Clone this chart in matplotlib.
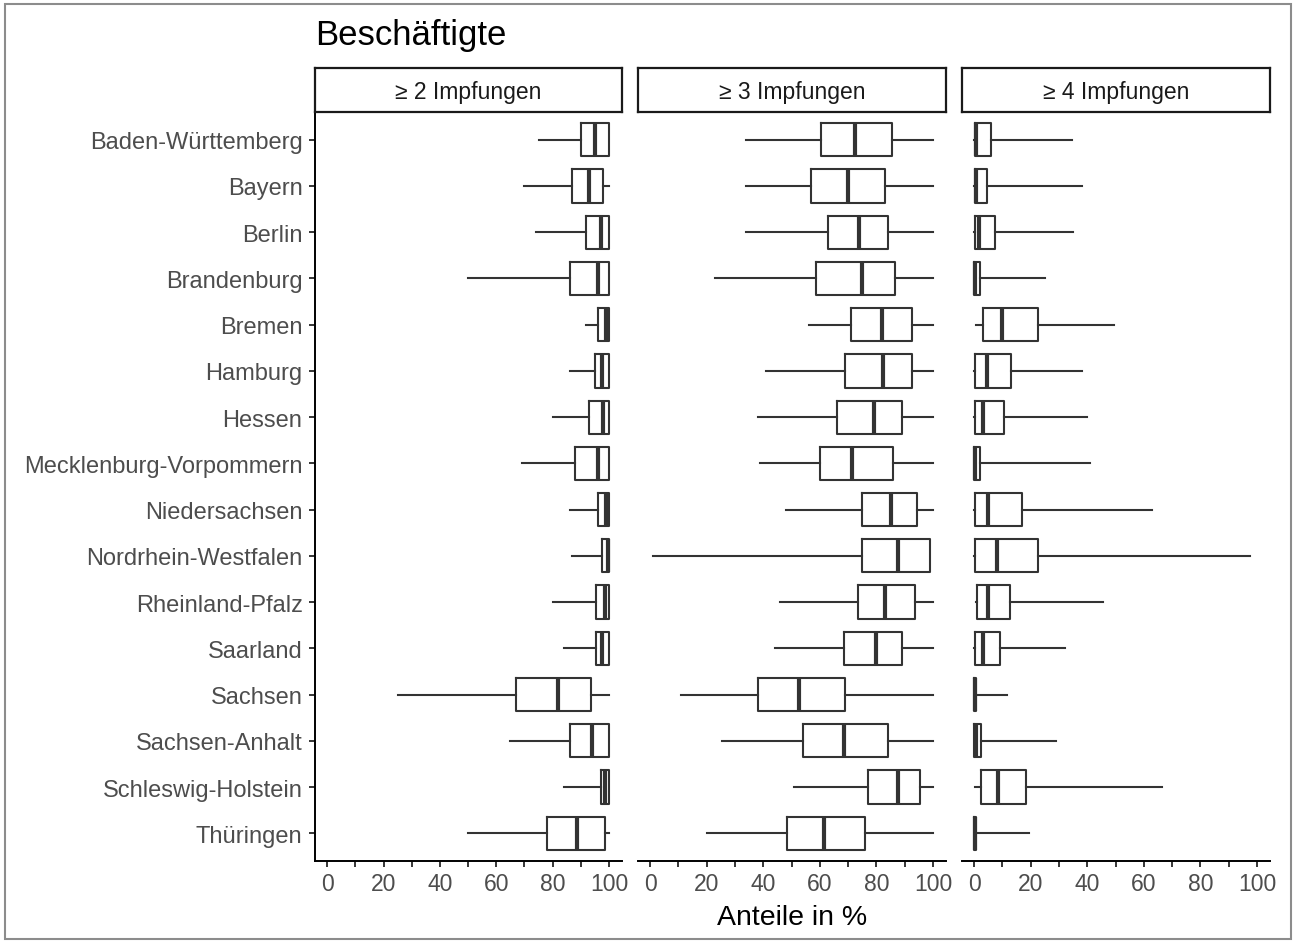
import matplotlib
matplotlib.use("Agg")
import matplotlib.pyplot as plt
from matplotlib.patches import Rectangle

plt.rcParams['font.family'] = ['Liberation Sans', 'DejaVu Sans']

states = ["Baden-Württemberg", "Bayern", "Berlin", "Brandenburg", "Bremen",
          "Hamburg", "Hessen", "Mecklenburg-Vorpommern", "Niedersachsen",
          "Nordrhein-Westfalen", "Rheinland-Pfalz", "Saarland", "Sachsen",
          "Sachsen-Anhalt", "Schleswig-Holstein", "Thüringen"]
panels = ["≥ 2 Impfungen", "≥ 3 Impfungen", "≥ 4 Impfungen"]

# >= 2 Impfungen
d2_lo = [75, 70, 74, 50, 92, 86, 80, 69, 86, 87, 80, 84, 25, 65, 84, 50]
d2_q1 = [90, 87, 92, 86, 96, 95, 93, 88, 96, 97.5, 95.5, 95.5, 67, 86, 97, 78]
d2_med = [95, 93, 97, 96, 99, 97.5, 98, 96, 99, 99.5, 98.5, 97.5, 82, 94, 98.5, 88.5]
d2_q3 = [100, 98, 100, 100, 100, 100, 100, 100, 100, 100, 100, 100, 93.5, 100, 100, 98.5]
d2_hi = [100, 100, 100, 100, 100, 100, 100, 100, 100, 100, 100, 100, 100, 100, 100, 100]

# >= 3 Impfungen
d3_lo = [34, 34, 34, 23, 56, 41, 38, 39, 48, 1, 46, 44, 11, 25.5, 51, 20]
d3_q1 = [60.5, 57, 63, 58.5, 71, 69, 66, 60, 75, 75, 73.5, 68.5, 38, 54, 77, 48.5]
d3_med = [72.5, 70, 74, 75, 82, 82.5, 79, 71.5, 85, 87.5, 83, 80, 52.5, 68.5, 87.5, 61.5]
d3_q3 = [85.5, 83, 84, 86.5, 92.5, 92.5, 89, 86, 94.5, 99, 93.5, 89, 69, 84, 95.5, 76]
d3_hi = [100, 100, 100, 100, 100, 100, 100, 100, 100, 99, 100, 100, 100, 100, 100, 100]

# >= 4 Impfungen
d4_lo = [0, 0, 0, 0, 0.5, 0, 0, 0, 0, 0, 0.5, 0, 0, 0, 0.3, 0]
d4_q1 = [0.3, 0.3, 0.3, 0, 3, 0.3, 0.3, 0, 0.3, 0.3, 1, 0.3, 0, 0, 2.5, 0]
d4_med = [0.5, 0.5, 1.8, 0.3, 10, 4.5, 3, 0.3, 5, 8, 5, 3, 0.2, 0.8, 8.5, 0.2]
d4_q3 = [6, 4.5, 7.5, 2, 22.5, 13, 10.5, 2, 17, 22.5, 12.5, 9, 0.8, 2.5, 18.5, 0.7]
d4_hi = [34.5, 38, 35, 25, 49.5, 38, 40, 41, 63, 97.5, 45.5, 32, 11.5, 29, 66.5, 19.5]

data = [(d2_lo, d2_q1, d2_med, d2_q3, d2_hi),
        (d3_lo, d3_q1, d3_med, d3_q3, d3_hi),
        (d4_lo, d4_q1, d4_med, d4_q3, d4_hi)]

W, H = 1296, 945
fig = plt.figure(figsize=(W / 100, H / 100), dpi=100)
fig.patches.append(Rectangle((5 / W, 5 / H), 1 - 10 / W, 1 - 10 / H,
                             transform=fig.transFigure, fill=False,
                             edgecolor="#8c8c8c", linewidth=1.5))

lc = "#333333"
panel_x = [(315, 622), (638, 946), (962, 1270)]
top, bottom = 113, 862
pos = list(range(1, len(states) + 1))

for i, (x0, x1) in enumerate(panel_x):
    ax = fig.add_axes([x0 / W, 1 - bottom / H, (x1 - x0) / W, (bottom - top) / H])
    lo, q1, med, q3, hi = data[i]
    stats = [dict(whislo=lo[k], q1=q1[k], med=med[k], q3=q3[k], whishi=hi[k])
             for k in range(len(states))]
    ax.bxp(stats, positions=pos, widths=0.72, orientation="horizontal",
           showfliers=False, showcaps=False,
           boxprops=dict(color=lc, linewidth=1.5),
           whiskerprops=dict(color=lc, linewidth=1.5),
           medianprops=dict(color=lc, linewidth=3.0, solid_capstyle="butt"))
    ax.set_xlim(-4.3, 104.6)
    ax.set_ylim(16.6, 0.4)
    ax.set_xticks(range(0, 101, 10))
    ax.set_xticklabels([str(v) if v % 20 == 0 else "" for v in range(0, 101, 10)])
    ax.tick_params(axis="x", length=4, width=1.1, colors="black",
                   labelcolor="#4d4d4d", labelsize=16.5, pad=4)
    for s in ["top", "right"]:
        ax.spines[s].set_visible(False)
    ax.spines["bottom"].set_linewidth(1.4)
    if i == 0:
        ax.set_yticks(pos)
        ax.set_yticklabels(states)
        ax.tick_params(axis="y", length=4, width=1.1, labelcolor="#4d4d4d",
                       labelsize=17, pad=5)
        ax.spines["left"].set_linewidth(1.4)
    else:
        ax.set_yticks([])
        ax.spines["left"].set_visible(False)

    sax = fig.add_axes([x0 / W, 1 - 113 / H, (x1 - x0) / W, 44 / H])
    sax.set_xticks([])
    sax.set_yticks([])
    for s in sax.spines.values():
        s.set_linewidth(1.6)
        s.set_color("#1a1a1a")
    sax.text(0.5, 0.47, panels[i], ha="center", va="center", fontsize=16.5,
             color="#1a1a1a", transform=sax.transAxes)

fig.text(315 / W, 1 - 36 / H, "Beschäftigte", fontsize=25, va="center", ha="left")
fig.text(792 / W, 1 - 918 / H, "Anteile in %", fontsize=20.5, va="center", ha="center")

fig.savefig("out.png", dpi=100)
